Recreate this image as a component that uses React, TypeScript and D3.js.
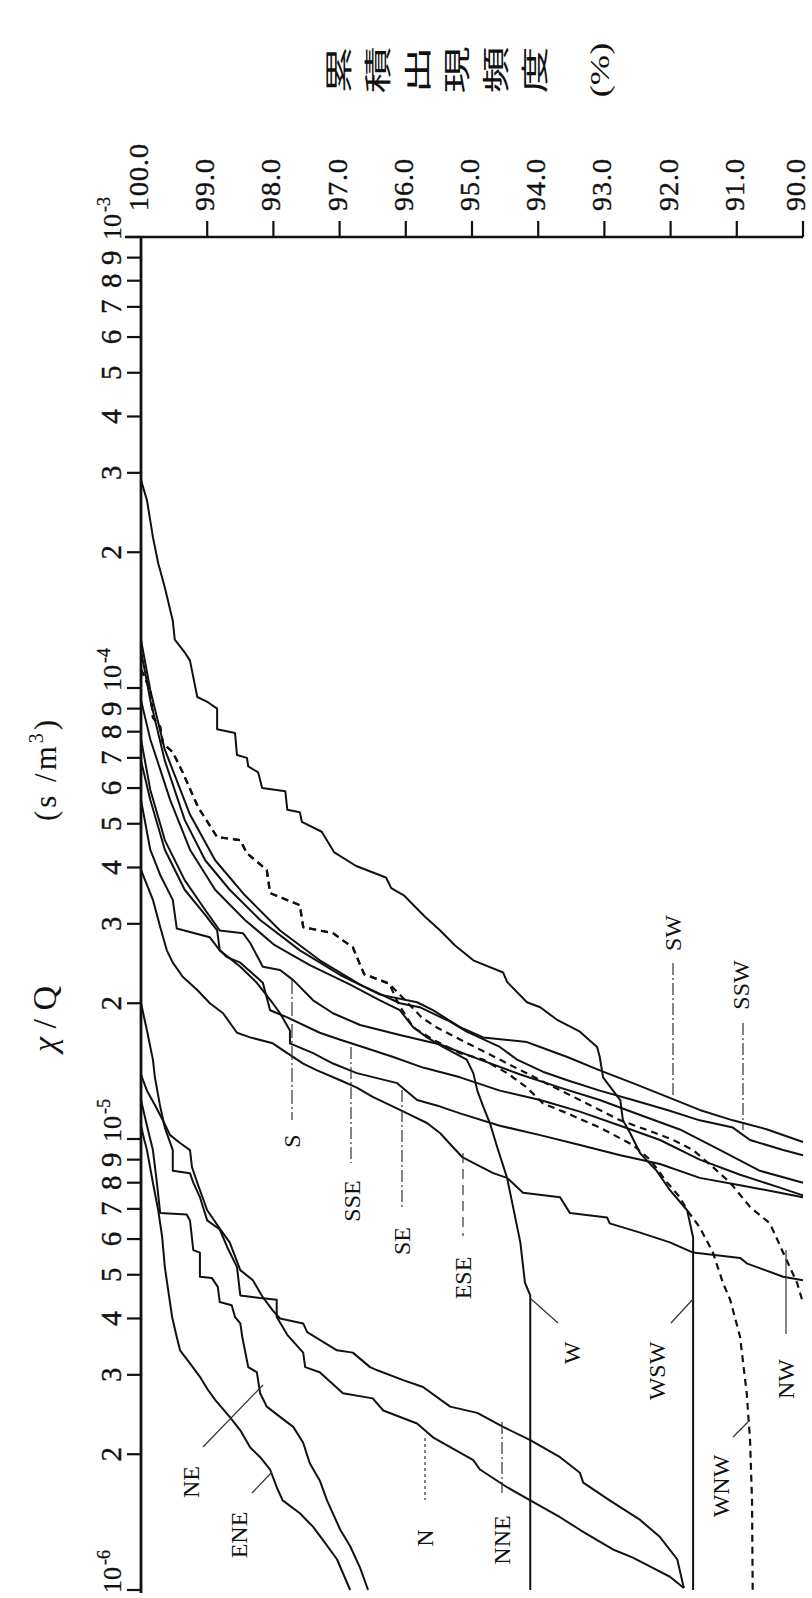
import React from "react";
import * as d3 from "d3";

// chi/Q (s/m3) vs cumulative frequency (%) per wind direction
type Pt = [number, number]; // [chi/Q, cumulative %]

const freqTicks = [100, 99, 98, 97, 96, 95, 94, 93, 92, 91, 90];
const decadeExps = [-6, -5, -4, -3];
const minorMults = [2, 3, 4, 5, 6, 7, 8, 9];
const titleChars = ["累", "積", "出", "現", "頻", "度"];

const WSW: Pt[] = [
  [2.89e-4, 100], [2.61e-4, 99.91], [2.16e-4, 99.82], [1.89e-4, 99.74], [1.67e-4, 99.64],
  [1.41e-4, 99.52], [1.28e-4, 99.49], [1.2e-4, 99.34], [1.15e-4, 99.26], [9.55e-5, 99.15],
  [9.3e-5, 98.99], [9.0e-5, 98.85], [8.1e-5, 98.85], [7.95e-5, 98.58], [7.1e-5, 98.55],
  [7.0e-5, 98.4], [6.7e-5, 98.38], [6.5e-5, 98.23], [6.0e-5, 98.17], [5.9e-5, 97.82],
  [5.37e-5, 97.79], [5.3e-5, 97.6], [5.05e-5, 97.57], [4.8e-5, 97.27], [4.32e-5, 97.08],
  [4.03e-5, 96.75], [3.8e-5, 96.3], [3.6e-5, 96.22], [3.47e-5, 96.03], [3.11e-5, 95.71],
  [2.9e-5, 95.48], [2.69e-5, 95.26], [2.49e-5, 94.98], [2.34e-5, 94.53], [2.23e-5, 94.47],
  [2.01e-5, 94.17], [1.96e-5, 93.97], [1.84e-5, 93.72], [1.73e-5, 93.37], [1.6e-5, 93.11],
  [1.52e-5, 93.07], [1.37e-5, 93.02], [1.28e-5, 92.87], [1.22e-5, 92.76], [1.1e-5, 92.72],
  [1.03e-5, 92.61], [9.3e-6, 92.46], [8.5e-6, 92.21], [7.7e-6, 92.01], [6.95e-6, 91.75],
  [6.05e-6, 91.66], [1e-6, 91.66],
];

const SW: Pt[] = [
  [1.21e-4, 100], [9.4e-5, 99.86], [6.9e-5, 99.64], [5.1e-5, 99.34], [4.15e-5, 99.03],
  [3.57e-5, 98.66], [3.06e-5, 98.2], [2.62e-5, 97.6], [2.31e-5, 96.99], [2.09e-5, 96.39],
  [2.01e-5, 95.83], [1.93e-5, 95.59], [1.77e-5, 95.18], [1.68e-5, 94.83], [1.64e-5, 94.17],
  [1.6e-5, 93.97], [1.52e-5, 93.56], [1.42e-5, 93.07], [1.33e-5, 92.57], [1.24e-5, 92.05],
  [1.16e-5, 91.56], [1.1e-5, 91.06], [1.05e-5, 90.54], [9.85e-6, 90.0],
];

const SSW: Pt[] = [
  [1.28e-4, 100], [9.9e-5, 99.86], [7.3e-5, 99.64], [5.24e-5, 99.26], [4.15e-5, 98.88],
  [3.47e-5, 98.43], [2.9e-5, 97.9], [2.49e-5, 97.3], [2.2e-5, 96.69], [2.0e-5, 96.09],
  [1.96e-5, 95.79], [1.82e-5, 95.33], [1.73e-5, 95.08], [1.6e-5, 94.58], [1.5e-5, 94.32],
  [1.41e-5, 93.93], [1.35e-5, 93.56], [1.28e-5, 93.07], [1.22e-5, 92.57], [1.16e-5, 92.05],
  [1.1e-5, 91.56], [1.06e-5, 91.06], [9.95e-6, 90.8], [9.45e-6, 90.3], [9.2e-6, 90.0],
];

const W: Pt[] = [
  [9.4e-5, 100], [7.7e-5, 99.86], [5.65e-5, 99.56], [4.38e-5, 99.26], [3.57e-5, 98.88],
  [3.06e-5, 98.43], [2.69e-5, 97.98], [2.43e-5, 97.45], [2.2e-5, 96.84], [2.03e-5, 96.39],
  [1.93e-5, 96.09], [1.77e-5, 95.89], [1.68e-5, 95.68], [1.6e-5, 95.44], [1.5e-5, 95.08],
  [1.4e-5, 94.98], [1.28e-5, 94.92], [1.18e-5, 94.83], [1.085e-5, 94.73], [9.6e-6, 94.62],
  [8.2e-6, 94.47], [7.07e-6, 94.38], [5.9e-6, 94.27], [4.8e-6, 94.2], [4.5e-6, 94.12],
  [1e-6, 94.12],
];

const S: Pt[] = [
  [7.7e-5, 100], [5.95e-5, 99.86], [4.6e-5, 99.64], [3.75e-5, 99.34], [3.22e-5, 99.03],
  [2.9e-5, 98.81], [2.86e-5, 98.46], [2.72e-5, 98.35], [2.41e-5, 98.16], [2.37e-5, 97.9],
  [2.25e-5, 97.7], [2.03e-5, 97.4], [1.9e-5, 97.1], [1.79e-5, 96.69], [1.7e-5, 96.09],
  [1.62e-5, 95.48], [1.5e-5, 94.88], [1.39e-5, 94.27], [1.3e-5, 93.67], [1.22e-5, 93.07],
  [1.13e-5, 92.46], [1.05e-5, 91.86], [9.45e-6, 91.25], [8.5e-6, 90.65], [8.0e-6, 90.0],
];

const SSE: Pt[] = [
  [6.9e-5, 100], [5.65e-5, 99.86], [4.38e-5, 99.64], [3.57e-5, 99.34], [3.14e-5, 99.03],
  [2.9e-5, 98.85], [2.62e-5, 98.81], [2.53e-5, 98.7], [2.46e-5, 98.5], [2.22e-5, 98.16],
  [1.93e-5, 98.05], [1.86e-5, 97.79], [1.72e-5, 97.3], [1.66e-5, 96.99], [1.6e-5, 96.65],
  [1.52e-5, 96.19], [1.44e-5, 95.74], [1.37e-5, 95.18], [1.28e-5, 94.58], [1.22e-5, 93.97],
  [1.15e-5, 93.37], [1.07e-5, 92.76], [9.95e-6, 92.16], [9.0e-6, 91.56], [8.33e-6, 90.95],
  [7.8e-6, 90.35], [7.5e-6, 90.0],
];

const SE: Pt[] = [
  [5.65e-5, 100], [4.38e-5, 99.86], [3.85e-5, 99.71], [3.39e-5, 99.52], [2.93e-5, 99.46],
  [2.8e-5, 98.96], [2.62e-5, 98.81], [2.41e-5, 98.5], [2.22e-5, 98.25], [2.0e-5, 98.01],
  [1.9e-5, 97.9], [1.74e-5, 97.75], [1.63e-5, 97.75], [1.55e-5, 97.4], [1.47e-5, 97.1],
  [1.4e-5, 96.74], [1.33e-5, 96.13], [1.22e-5, 95.83], [1.18e-5, 95.48], [1.14e-5, 95.18],
  [1.07e-5, 94.58], [1.02e-5, 93.97], [9.7e-6, 93.37], [9.2e-6, 92.76], [8.8e-6, 92.16],
  [8.2e-6, 91.56], [7.9e-6, 90.95], [7.6e-6, 90.35], [7.43e-6, 90.0],
];

const ESE: Pt[] = [
  [3.95e-5, 100], [3.66e-5, 99.91], [3.39e-5, 99.82], [2.95e-5, 99.71], [2.62e-5, 99.61],
  [2.46e-5, 99.52], [2.29e-5, 99.37], [2.14e-5, 99.15], [2.0e-5, 98.96], [1.9e-5, 98.76],
  [1.72e-5, 98.55], [1.68e-5, 98.35], [1.63e-5, 98.01], [1.55e-5, 97.79], [1.47e-5, 97.55],
  [1.42e-5, 97.34], [1.35e-5, 96.99], [1.3e-5, 96.74], [1.24e-5, 96.5], [1.18e-5, 96.19],
  [1.14e-5, 95.98], [1.085e-5, 95.68], [1.03e-5, 95.48], [9.6e-6, 95.29], [9.1e-6, 95.14],
  [8.85e-6, 94.98], [8.4e-6, 94.68], [8.2e-6, 94.47], [7.6e-6, 94.23], [7.43e-6, 93.67],
  [6.85e-6, 93.52], [6.7e-6, 92.96], [6.5e-6, 92.92], [6.2e-6, 92.46], [5.9e-6, 92.01],
  [5.6e-6, 91.66], [5.45e-6, 90.95], [5.3e-6, 90.85], [4.95e-6, 90.3], [4.86e-6, 90.0],
];

const NW: Pt[] = [
  [1.1e-4, 100], [9.9e-5, 99.86], [8.6e-5, 99.82], [8.2e-5, 99.71], [7.55e-5, 99.67],
  [7.2e-5, 99.52], [6.5e-5, 99.37], [5.75e-5, 99.21], [5.45e-5, 99.14], [4.67e-5, 98.85],
  [4.6e-5, 98.5], [4.3e-5, 98.4], [3.95e-5, 98.1], [3.51e-5, 98.05], [3.3e-5, 97.6],
  [2.95e-5, 97.55], [2.86e-5, 97.1], [2.66e-5, 96.8], [2.32e-5, 96.63], [2.21e-5, 96.25],
  [1.86e-5, 95.76], [1.77e-5, 95.54], [1.62e-5, 95.03], [1.5e-5, 94.58], [1.35e-5, 93.97],
  [1.22e-5, 93.37], [1.1e-5, 92.76], [1.036e-5, 92.27], [9.95e-6, 91.96], [9.45e-6, 91.66],
  [8.66e-6, 91.36], [8.0e-6, 91.1], [7.07e-6, 90.8], [6.5e-6, 90.5], [5.6e-6, 90.3],
  [4.8e-6, 90.09], [4.33e-6, 90.0],
];

const WNW: Pt[] = [
  [1.1e-4, 100], [9.9e-5, 99.86], [8.6e-5, 99.82], [8.2e-5, 99.71], [7.55e-5, 99.67],
  [7.2e-5, 99.52], [6.5e-5, 99.37], [5.75e-5, 99.21], [5.45e-5, 99.14], [4.67e-5, 98.85],
  [4.6e-5, 98.5], [4.3e-5, 98.4], [3.95e-5, 98.1], [3.51e-5, 98.05], [3.3e-5, 97.6],
  [2.95e-5, 97.55], [2.86e-5, 97.1], [2.66e-5, 96.8], [2.32e-5, 96.63], [2.21e-5, 96.25],
  [1.98e-5, 96.1], [1.77e-5, 95.89], [1.66e-5, 95.59], [1.55e-5, 95.18], [1.5e-5, 94.83],
  [1.4e-5, 94.47], [1.3e-5, 94.17], [1.2e-5, 93.93], [1.14e-5, 93.56], [1.06e-5, 93.07],
  [9.7e-6, 92.57], [9.0e-6, 92.31], [8.0e-6, 92.05], [7.43e-6, 91.86], [6.95e-6, 91.75],
  [6.37e-6, 91.56], [5.6e-6, 91.36], [4.8e-6, 91.21], [4.4e-6, 91.1], [3.64e-6, 90.95],
  [3.24e-6, 90.91], [2.73e-6, 90.85], [2.15e-6, 90.8], [1.58e-6, 90.77], [1e-6, 90.76],
];

const N: Pt[] = [
  [2.0e-5, 100], [1.74e-5, 99.91], [1.5e-5, 99.82], [1.37e-5, 99.79], [1.18e-5, 99.71],
  [1.06e-5, 99.64], [9.45e-6, 99.52], [8.5e-6, 99.52], [8.4e-6, 99.26], [8.0e-6, 99.21],
  [7.43e-6, 99.11], [6.6e-6, 99.0], [6.3e-6, 98.81], [5.77e-6, 98.7], [5.2e-6, 98.55],
  [4.5e-6, 98.5], [4.44e-6, 98.2], [4.4e-6, 97.95], [4.03e-6, 97.95], [3.68e-6, 97.79],
  [3.36e-6, 97.55], [3.12e-6, 97.52], [3.04e-6, 97.3], [2.73e-6, 96.95], [2.66e-6, 96.5],
  [2.5e-6, 96.34], [2.34e-6, 95.83], [2.18e-6, 95.59], [1.94e-6, 94.98], [1.85e-6, 94.88],
  [1.69e-6, 94.47], [1.58e-6, 94.12], [1.45e-6, 93.67], [1.36e-6, 93.37], [1.29e-6, 93.11],
  [1.23e-6, 92.87], [1.18e-6, 92.57], [1.12e-6, 92.27], [1.07e-6, 92.01], [1.01e-6, 91.8],
];

const NNE: Pt[] = [
  [1.39e-5, 100], [1.28e-5, 99.91], [1.19e-5, 99.79], [1.1e-5, 99.67], [1.02e-5, 99.56],
  [9.8e-6, 99.41], [9.45e-6, 99.26], [8.66e-6, 99.23], [8.0e-6, 99.15], [6.95e-6, 99.0],
  [6.33e-6, 98.81], [5.9e-6, 98.66], [5.12e-6, 98.5], [4.86e-6, 98.31], [4.46e-6, 98.16],
  [4.17e-6, 98.01], [4.0e-6, 97.9], [3.9e-6, 97.55], [3.73e-6, 97.49], [3.4e-6, 97.04],
  [3.36e-6, 96.8], [3.12e-6, 96.54], [3.07e-6, 96.43], [2.92e-6, 96.04], [2.82e-6, 95.74],
  [2.55e-6, 95.33], [2.47e-6, 94.92], [2.3e-6, 94.53], [2.15e-6, 94.12], [1.97e-6, 93.67],
  [1.82e-6, 93.37], [1.73e-6, 93.32], [1.58e-6, 92.92], [1.43e-6, 92.46], [1.31e-6, 92.16],
  [1.17e-6, 91.9], [1.01e-6, 91.8],
];

const NE: Pt[] = [
  [1.22e-5, 100], [1.07e-5, 99.91], [9.45e-6, 99.82], [8.0e-6, 99.76], [6.85e-6, 99.71],
  [6.8e-6, 99.31], [6.6e-6, 99.26], [5.67e-6, 99.21], [5.6e-6, 99.11], [4.95e-6, 99.11],
  [4.92e-6, 98.93], [4.7e-6, 98.84], [4.35e-6, 98.81], [4.28e-6, 98.63], [4.03e-6, 98.58],
  [3.9e-6, 98.5], [3.64e-6, 98.47], [3.12e-6, 98.38], [3.04e-6, 98.25], [2.73e-6, 98.2],
  [2.55e-6, 98.1], [2.42e-6, 97.9], [2.3e-6, 97.7], [2.12e-6, 97.55], [1.91e-6, 97.45],
  [1.75e-6, 97.3], [1.58e-6, 97.19], [1.36e-6, 96.99], [1.25e-6, 96.84], [1.12e-6, 96.69],
  [1e-6, 96.57],
];

const ENE: Pt[] = [
  [1.07e-5, 100], [9.95e-6, 99.95], [9.45e-6, 99.91], [8.0e-6, 99.82], [6.95e-6, 99.74],
  [6.06e-6, 99.68], [5.2e-6, 99.64], [4.03e-6, 99.53], [3.64e-6, 99.46], [3.4e-6, 99.41],
  [3.18e-6, 99.26], [2.97e-6, 99.11], [2.78e-6, 98.99], [2.64e-6, 98.88], [2.42e-6, 98.66],
  [2.26e-6, 98.5], [2.07e-6, 98.35], [1.97e-6, 98.2], [1.85e-6, 98.05], [1.69e-6, 97.95],
  [1.58e-6, 97.86], [1.48e-6, 97.6], [1.38e-6, 97.4], [1.29e-6, 97.25], [1.17e-6, 97.04],
  [1e-6, 96.84],
];

const seriesNames = ["WSW", "SW", "SSW", "W", "S", "SSE", "SE", "ESE", "NW", "WNW", "N", "NNE", "NE", "ENE"];
const seriesData: Pt[][] = [WSW, SW, SSW, W, S, SSE, SE, ESE, NW, WNW, N, NNE, NE, ENE];
const dashedSeries = ["NW", "WNW"];

// label layout (pixels): text centre, leader segment, leader dash
const labelLayout: { t: string; cx: number; cy: number; l: number[]; dash?: string }[] = [
  { t: "S", cx: 292, cy: 1141, l: [292, 980, 292, 1120], dash: "14,3,2,3" },
  { t: "SSE", cx: 352, cy: 1201, l: [351, 1047, 351, 1163], dash: "12,3,2,3" },
  { t: "SE", cx: 402, cy: 1241, l: [402, 1090, 402, 1209], dash: "12,3,2,3" },
  { t: "ESE", cx: 463, cy: 1278, l: [463, 1153, 463, 1236], dash: "10,6" },
  { t: "SW", cx: 673, cy: 933, l: [673, 963, 673, 1097], dash: "12,3,2,3" },
  { t: "SSW", cx: 741, cy: 985, l: [743, 1023, 743, 1130], dash: "12,3,2,3" },
  { t: "W", cx: 572, cy: 1353, l: [530, 1298, 558, 1323] },
  { t: "WSW", cx: 657, cy: 1371, l: [694, 1298, 671, 1323] },
  { t: "NW", cx: 786, cy: 1379, l: [786, 1250, 786, 1334] },
  { t: "WNW", cx: 721, cy: 1486, l: [748, 1422, 733, 1437] },
  { t: "N", cx: 425, cy: 1538, l: [425, 1438, 425, 1500], dash: "3,3" },
  { t: "NNE", cx: 502, cy: 1540, l: [502, 1422, 502, 1493], dash: "12,3,2,3" },
  { t: "NE", cx: 191, cy: 1482, l: [263, 1385, 203, 1447] },
  { t: "ENE", cx: 239, cy: 1535, l: [272, 1472, 252, 1493] },
];

const serif = "'Liberation Serif', 'DejaVu Serif', serif";

export default function App() {
  const width = 812;
  const height = 1598;

  const x = d3.scaleLinear().domain([100, 90]).range([141, 803]);
  const y = d3.scaleLog().domain([1e-6, 1e-3]).range([1590, 237]);

  const line = d3
    .line<Pt>()
    .x((d) => x(d[1]))
    .y((d) => y(d[0]));

  const minorTicks: number[] = [];
  decadeExps.slice(0, 3).forEach((e) => {
    minorMults.forEach((m) => minorTicks.push(m * Math.pow(10, e)));
  });

  const axisLeft = x(100);
  const axisTop = y(1e-3);

  return (
    <svg
      width={width}
      height={height}
      viewBox={`0 0 ${width} ${height}`}
      style={{ position: "absolute", left: 0, top: 0, background: "#fff" }}
    >
      <rect x={0} y={0} width={width} height={height} fill="#fff" />

      {/* title: cumulative frequency */}
      {titleChars.map((c, i) => (
        <text
          key={c}
          transform={`translate(${337 + i * 39.3},${70}) rotate(-90) scale(1.75,1)`}
          textAnchor="middle"
          dominantBaseline="central"
          fontSize={27}
          fontFamily="'Noto Sans CJK JP', sans-serif"
          fill="#111"
        >
          {c}
        </text>
      ))}
      <text
        transform={`translate(${600},${70}) rotate(-90) scale(1.3,1)`}
        textAnchor="middle"
        dominantBaseline="central"
        fontSize={28}
        fontFamily={serif}
        fill="#111"
      >
        (%)
      </text>

      {/* title: chi/Q */}
      <text
        transform={`translate(${56},${1019}) rotate(-90)`}
        textAnchor="middle"
        fontSize={34}
        fontFamily={serif}
        fill="#111"
      >
        <tspan fontStyle="italic">χ</tspan> / Q
      </text>
      <text
        transform={`translate(${56},${769}) rotate(-90)`}
        textAnchor="middle"
        fontSize={31}
        letterSpacing={3}
        fontFamily={serif}
        fill="#111"
      >
        (s /m
        <tspan dy={-13} fontSize={20}>3</tspan>
        <tspan dy={13}>)</tspan>
      </text>

      {/* frequency axis (top) */}
      <line x1={125} y1={axisTop} x2={x(90)} y2={axisTop} stroke="#111" strokeWidth={2.5} />
      {freqTicks.map((f) => (
        <g key={f}>
          {f !== 100 && (
            <line x1={x(f)} y1={axisTop} x2={x(f)} y2={axisTop - 16} stroke="#111" strokeWidth={2.2} />
          )}
          <text
            transform={`translate(${Math.min(x(f) + 7, 805)},${211}) rotate(-90)`}
            textAnchor="start"
            fontSize={28}
            letterSpacing={1}
            fontFamily={serif}
            fill="#111"
            stroke="#111"
            strokeWidth={0.4}
          >
            {f.toFixed(1)}
          </text>
        </g>
      ))}

      {/* chi/Q axis (left) */}
      <line x1={axisLeft} y1={axisTop} x2={axisLeft} y2={1593} stroke="#111" strokeWidth={2.8} />
      {minorTicks.map((v) => (
        <g key={v}>
          <line x1={axisLeft - 14} y1={y(v)} x2={axisLeft} y2={y(v)} stroke="#111" strokeWidth={2.2} />
          <text
            transform={`translate(${121},${y(v)}) rotate(-90)`}
            textAnchor="middle"
            fontSize={29}
            fontFamily={serif}
            fill="#111"
            stroke="#111"
            strokeWidth={0.4}
          >
            {Math.round(v / Math.pow(10, Math.floor(Math.log10(v) + 1e-9)))}
          </text>
        </g>
      ))}
      {decadeExps.map((e) => {
        const v = Math.pow(10, e);
        return (
          <g key={e}>
            <line x1={axisLeft - 14} y1={y(v)} x2={axisLeft} y2={y(v)} stroke="#111" strokeWidth={2.2} />
            <text
              transform={`translate(${121},${Math.min(y(v) + 3, 1594)}) rotate(-90)`}
              textAnchor="start"
              fontSize={26}
              fontFamily={serif}
              fill="#111"
              stroke="#111"
              strokeWidth={0.3}
            >
              10
              <tspan dy={-11} dx={2} fontSize={18}>
                {`-${-e}`}
              </tspan>
            </text>
          </g>
        );
      })}

      {/* curves */}
      {seriesData.map((d, i) => (
        <path
          key={seriesNames[i]}
          d={line(d) || ""}
          fill="none"
          stroke="#111"
          strokeWidth={dashedSeries.includes(seriesNames[i]) ? 2.2 : 2}
          strokeDasharray={dashedSeries.includes(seriesNames[i]) ? "7,5" : undefined}
          strokeLinejoin="round"
        />
      ))}

      {/* direction labels */}
      {labelLayout.map((lb) => (
        <g key={lb.t}>
          <line
            x1={lb.l[0]}
            y1={lb.l[1]}
            x2={lb.l[2]}
            y2={lb.l[3]}
            stroke="#333"
            strokeWidth={1.2}
            strokeDasharray={lb.dash}
          />
          <text
            transform={`translate(${lb.cx},${lb.cy}) rotate(-90)`}
            textAnchor="middle"
            dominantBaseline="central"
            fontSize={24}
            fontFamily={serif}
            fill="#111"
          >
            {lb.t}
          </text>
        </g>
      ))}
    </svg>
  );
}
